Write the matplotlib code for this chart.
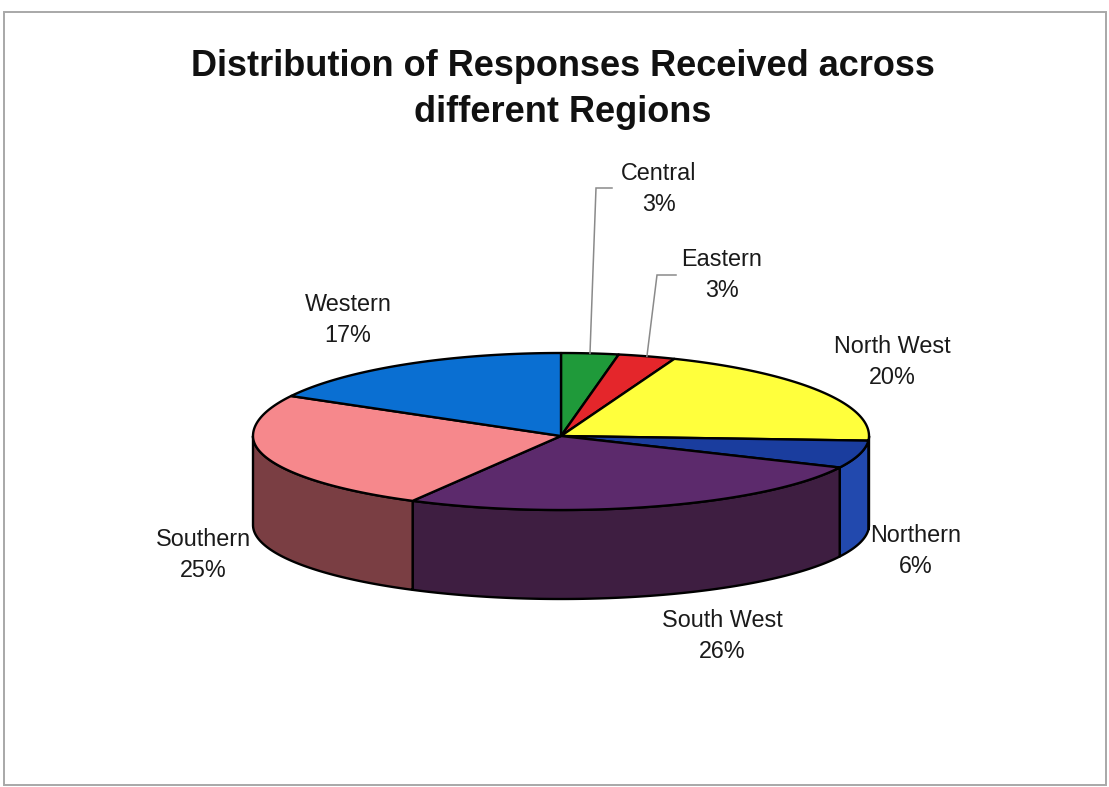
import numpy as np
import matplotlib
matplotlib.use("Agg")
import matplotlib.pyplot as plt
from matplotlib.patches import Polygon, Rectangle

# ---- data -------------------------------------------------------------
regions = ["Central", "Eastern", "North West", "Northern",
           "South West", "Southern", "Western"]
shares = [3, 3, 20, 6, 26, 25, 17]          # percent of responses
top_colors = ["#1f9a3a", "#e4262b", "#ffff3c", "#1a3d9e",
              "#5c2a6c", "#f6888c", "#0a6fd2"]
side_colors = ["#146b28", "#9e1a1e", "#b3b32a", "#2249ae",
               "#3e1e41", "#7a3e43", "#074e94"]
title_lines = ["Distribution of Responses Received across",
               "different Regions"]

# ---- layout (pixel coordinates on a 1109 x 787 canvas) ----------------
W, H = 1109, 787
cx, cy = 561, 436          # apex of the pie top
rx = 308                   # horizontal radius
ry_back, ry_front = 83, 74 # vertical radius of far / near half
depth = 89                 # thickness of the pie

label_xy = [(659, 189), (722, 275), (892, 362), (916, 551),
            (722, 636), (203, 555), (348, 320)]
leader_elbow = {0: (596, 188, 612), 1: (657, 275, 676)}

fig = plt.figure(figsize=(W / 100, H / 100), dpi=100)
fig.patch.set_facecolor("white")
ax = fig.add_axes([0, 0, 1, 1])
ax.set_xlim(0, W)
ax.set_ylim(H, 0)
ax.axis("off")

# outer chart frame
fig.patches.append(Rectangle((4 / W, 2 / H), 1102 / W, (H - 14) / H,
                             transform=fig.transFigure, fill=False,
                             edgecolor="#a8a8a8", lw=1.4))


def rim(t):
    t = np.asarray(t, dtype=float)
    c = np.cos(t)
    ry = np.where(c >= 0, ry_back, ry_front)
    return cx + rx * np.sin(t), cy - ry * c


vals = np.array(shares, dtype=float)
bounds = np.concatenate([[0], np.cumsum(vals) / vals.sum()]) * 2 * np.pi

# side walls (only the near half is visible)
for i in range(len(vals)):
    lo = max(bounds[i], np.pi / 2)
    hi = min(bounds[i + 1], 3 * np.pi / 2)
    if lo >= hi:
        continue
    ts = np.linspace(lo, hi, 200)
    x, y = rim(ts)
    xs = np.concatenate([x, x[::-1]])
    ys = np.concatenate([y, (y + depth)[::-1]])
    ax.add_patch(Polygon(np.column_stack([xs, ys]), closed=True,
                         facecolor=side_colors[i], edgecolor="black",
                         lw=1.7, joinstyle="round", zorder=2))

# top faces
for i in range(len(vals)):
    ts = np.linspace(bounds[i], bounds[i + 1], 300)
    x, y = rim(ts)
    xs = np.concatenate([[cx], x])
    ys = np.concatenate([[cy], y])
    ax.add_patch(Polygon(np.column_stack([xs, ys]), closed=True,
                         facecolor=top_colors[i], edgecolor="black",
                         lw=1.7, joinstyle="round", zorder=3))

# data labels
pct = np.round(vals / vals.sum() * 100).astype(int)
for i, name in enumerate(regions):
    lx, ly = label_xy[i]
    ax.text(lx, ly, f"{name}\n{pct[i]}%", ha="center", va="center",
            multialignment="center", fontsize=16.8, linespacing=1.45,
            family="Liberation Sans", color="#1a1a1a", zorder=5)

# leader lines for the thin slices
for i, (ex, ey, tail) in leader_elbow.items():
    mid = 0.5 * (bounds[i] + bounds[i + 1])
    mx, my = rim(mid)
    ax.plot([mx, ex, tail], [my, ey, ey], color="#8a8a8a", lw=1.1,
            zorder=4, solid_joinstyle="miter")

# title
for k, base in enumerate((76, 122)):
    ax.text(W / 2 + 8, base, title_lines[k], ha="center", va="baseline",
            fontsize=26, fontweight="bold", family="Liberation Sans",
            color="#111111")

fig.savefig("out.png", dpi=100, facecolor="white")
